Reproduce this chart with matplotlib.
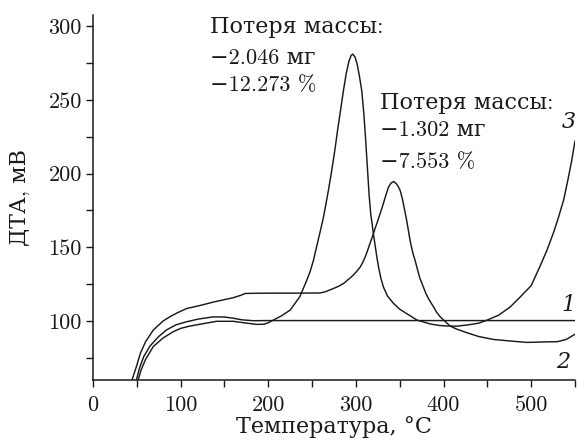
import matplotlib
matplotlib.use("Agg")
import matplotlib.pyplot as plt
from matplotlib.ticker import MultipleLocator

# ---- data ----
t1 = [49.5, 53, 58, 65, 75, 84, 95, 107, 120, 137, 150, 160, 170, 183, 200, 550]
v1 = [60, 68, 76, 83, 89.5, 94, 97.5, 99.5, 101.3, 102.8, 102.7, 101.9, 100.8, 100.2, 100.3, 100.3]

t2 = [44.5, 50, 54, 60, 69, 80, 88, 96, 107, 122, 137, 150, 160, 168, 174, 200, 230, 259,
      265, 270, 275, 280, 286, 290, 295, 300, 305, 308, 311, 314, 316, 319, 322, 325, 328,
      331, 334, 337, 340, 343, 346, 348.5, 350.5, 353, 356, 358, 360, 362, 365, 367.6, 370,
      373, 377, 380, 383, 386, 388.5, 392, 396, 400, 404, 407.5, 415, 427, 440, 457, 475,
      495, 515, 530, 540, 550]
v2 = [60, 70, 78, 86, 94, 100, 103, 105.5, 108.5, 110.5, 112.8, 114.5, 115.8, 117.3, 118.7,
      118.9, 118.9, 119, 119.8, 121, 122.2, 123.5, 125.5, 127.5, 130, 133, 136.7, 140, 144,
      149, 152.5, 157.5, 163, 168, 173.5, 179, 185, 190.5, 193.5, 194.6, 193.2, 191, 188.5,
      183, 174, 168, 161, 154, 146, 141, 135.5, 129, 123, 118.5, 115, 112, 109.7, 106, 103,
      100.7, 98.5, 96.6, 94.5, 92, 89.5, 87.5, 86.5, 85.5, 85.8, 86, 87.5, 91]

t3 = [51.5, 55, 60, 68.8, 80, 91.7, 100, 110, 122, 141, 160, 175, 187, 195, 200, 206, 215,
      225, 236, 244, 248, 251.5, 255, 259, 263, 266, 268.6, 272.4, 276, 279, 282, 285.7, 289,
      292, 294.5, 296.4, 299, 301.5, 304, 306.7, 309, 311, 313, 315, 317, 318, 320, 322, 324,
      326, 328.5, 331.4, 336, 342.8, 350, 358, 369.5, 384.7, 395, 404, 415, 427, 440, 450,
      463, 476, 487, 500, 510, 518, 525.5, 531, 537, 542, 546, 550]
v3 = [60, 67, 74, 82.7, 88.5, 92.8, 95, 96.5, 97.8, 99.8, 99.8, 98.6, 97.7, 97.8, 98.8, 100.7,
      103.5, 107.4, 116.5, 127.7, 134, 141, 150, 160, 170.5, 180, 188.5, 202, 216, 229, 241,
      256, 268, 276, 280, 281, 279, 274, 266, 256, 241, 224, 205, 186, 172, 168, 159, 151,
      143, 136, 129, 123, 117, 112, 108, 105, 100.7, 98, 97, 96.6, 96.5, 97.3, 98.5, 100.7,
      104, 109.5, 116, 124, 137, 148, 160, 170, 182, 196, 208, 222]

x_ticks = [0, 100, 200, 300, 400, 500]
y_ticks = [100, 150, 200, 250, 300]

ann1 = ["Потеря массы:", "\u22122.046 мг", "\u221212.273 %"]
ann2 = ["Потеря массы:", "\u22121.302 мг", "\u22127.553 %"]
curve_labels = ["1", "2", "3"]

plt.rcParams['font.family'] = ['cmr10', 'DejaVu Serif']
plt.rcParams['axes.formatter.use_mathtext'] = False

fig = plt.figure(figsize=(5.77, 4.40), dpi=100)
ax = fig.add_axes([93/577, 1-380/440, (575-93)/577, (380-15)/440])

col = '#1a1a1a'
for t, v in [(t1, v1), (t2, v2), (t3, v3)]:
    ax.plot(t, v, color=col, lw=1.05, solid_joinstyle='round', clip_on=True)

ax.set_xlim(0, 550)
ax.set_ylim(60, 307.5)
ax.set_xticks(x_ticks)
ax.set_xticklabels([str(x) for x in x_ticks])
ax.set_yticks(y_ticks)
ax.set_yticklabels([str(y) for y in y_ticks])
ax.xaxis.set_minor_locator(MultipleLocator(50))
ax.yaxis.set_minor_locator(MultipleLocator(50, offset=25))
ax.tick_params(which='both', direction='out', length=5, width=1.0, color=col,
               labelsize=16, labelcolor=col)
ax.tick_params(axis='x', pad=6)
ax.tick_params(axis='y', pad=3)
for s in ['top', 'right']:
    ax.spines[s].set_visible(False)
for s in ['left', 'bottom']:
    ax.spines[s].set_linewidth(1.1)
    ax.spines[s].set_color(col)

ax.set_xlabel("Температура, °C", fontsize=16, color=col, labelpad=1,
              family=['DejaVu Serif'])
ax.set_ylabel("ДТА, мВ", fontsize=16, color=col, labelpad=13)

for txt, yv in zip(ann1, [299.3, 278.5, 259.5]):
    ax.text(133.6, yv, txt, fontsize=16, color=col, ha='left', va='center')
for txt, yv in zip(ann2, [247.3, 229.5, 207.5]):
    ax.text(327.6, yv, txt, fontsize=16, color=col, ha='left', va='center')

for lab, (xv, yv) in zip(curve_labels, [(543, 110.8), (537, 72.5), (542.5, 234.7)]):
    ax.text(xv, yv, lab, fontsize=16, color=col, ha='center', va='center',
            style='italic', family=['DejaVu Serif'])

fig.savefig("out.png", dpi=100)
